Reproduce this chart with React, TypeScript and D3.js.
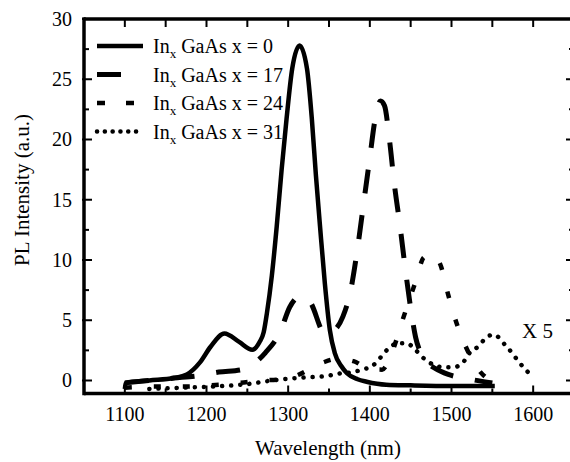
import React from "react";
import * as d3 from "d3";

// ---- data ----
const seriesLabels = ["0", "17", "24", "31"];

const s0Wavelength = [1100, 1101, 1130, 1160, 1176, 1192, 1205, 1222, 1240, 1256, 1265, 1270, 1274, 1280, 1286, 1292, 1298, 1305, 1314, 1323, 1329, 1334, 1339, 1345, 1351, 1357, 1365, 1372, 1385, 1396, 1420, 1450, 1500, 1553];
const s0Intensity = [-0.7, -0.2, 0, 0.2, 0.5, 1.5, 2.8, 3.9, 3.2, 2.55, 3.2, 4.0, 5.6, 8.7, 12.8, 17.5, 21.7, 25.9, 27.8, 25.9, 21.7, 17, 12.8, 8, 4.2, 2.3, 1.2, 0.6, 0.1, -0.1, -0.35, -0.4, -0.45, -0.45];

const s17Wavelength = [1100, 1130, 1160, 1190, 1215, 1243, 1260, 1272, 1290, 1302, 1315, 1327, 1345, 1352, 1367, 1376, 1385, 1392, 1400, 1406, 1413, 1418, 1424, 1430, 1437, 1443, 1450, 1456, 1463, 1470, 1480, 1496, 1523, 1550];
const s17Intensity = [-0.2, 0, 0.2, 0.4, 0.7, 0.9, 1.5, 2.3, 4.0, 6.1, 7.0, 6.5, 3.9, 4.0, 5.3, 7.3, 11, 14.5, 18.5, 21.5, 23.2, 22.8, 20, 16.3, 12.8, 9.5, 6, 3.6, 2.2, 1.5, 1.0, 0.5, 0.1, -0.2];

const s24Wavelength = [1100, 1137, 1171, 1204, 1241, 1267, 1290, 1310, 1325, 1343, 1360, 1380, 1398, 1415, 1428, 1440, 1456, 1466, 1476, 1487, 1496, 1507, 1521, 1533, 1545];
const s24Intensity = [-0.6, -0.5, -0.5, -0.4, -0.2, 0, 0.1, 0.4, 0.9, 1.5, 1.8, 1.6, 1.0, 0.9, 2.5, 5.0, 8.2, 10.2, 10.5, 9.5, 7.1, 4.6, 2.3, 0.9, 0.1];

const s31Wavelength = [1130, 1170, 1210, 1250, 1280, 1300, 1320, 1345, 1365, 1380, 1390, 1403, 1413, 1422, 1435, 1445, 1455, 1465, 1478, 1490, 1502, 1513, 1521, 1534, 1543, 1552, 1565, 1574, 1583, 1595];
const s31Intensity = [-0.7, -0.6, -0.5, -0.3, 0, 0.15, 0.25, 0.35, 0.6, 0.7, 0.9, 1.2, 1.9, 2.6, 3.1, 3.1, 2.6, 1.9, 1.3, 1.1, 1.1, 1.4, 2.2, 2.9, 3.6, 3.8, 3.0, 2.3, 1.5, 0.6];

const xTickLabels = [1100, 1200, 1300, 1400, 1500, 1600];
const yTickLabels = [0, 5, 10, 15, 20, 25, 30];
const xDomain = [1050, 1650];
const yDomain = [-1.08, 30];

const FONT = "'Liberation Serif', 'Times New Roman', Times, serif";

export default function App() {
  const W = 570;
  const H = 462;
  const left = 84, right = 574, top = 19, bottom = 393.5;
  const x = d3.scaleLinear().domain(xDomain).range([left, right]);
  const y = d3.scaleLinear().domain(yDomain).range([bottom, top]);

  const line = d3
    .line<[number, number]>()
    .x((d) => x(d[0]))
    .y((d) => y(d[1]))
    .curve(d3.curveMonotoneX);

  const zip = (a: number[], b: number[]) => a.map((v, i) => [v, b[i]] as [number, number]);

  const series = [
    { data: zip(s0Wavelength, s0Intensity), dash: "none", legendDash: "none", width: 4.5, cap: "butt" },
    { data: zip(s17Wavelength, s17Intensity), dash: "24 22", legendDash: "24 22", width: 5, cap: "butt" },
    { data: zip(s24Wavelength, s24Intensity), dash: "7 22", legendDash: "8 21", width: 4.5, cap: "butt" },
    { data: zip(s31Wavelength, s31Intensity), dash: "0.1 9", legendDash: "0.1 7.7", width: 4.5, cap: "round" },
  ];

  const xMinor = d3.range(1050, 1651, 50);
  const yMinor = d3.range(0, 30.01, 2.5);

  return (
    <svg width={W} height={H} style={{ position: "absolute", left: 0, top: 0, background: "#fff" }}>
      <rect x={0} y={0} width={W} height={H} fill="#fff" />
      {/* curves */}
      {series.map((s, i) => (
        <path
          key={i}
          d={line(s.data) || ""}
          fill="none"
          stroke="#000"
          strokeWidth={s.width}
          strokeDasharray={s.dash}
          strokeLinecap={s.cap as any}
          strokeLinejoin="round"
        />
      ))}

      {/* frame */}
      <g stroke="#000" strokeWidth={3.5} fill="none">
        <line x1={left} x2={left} y1={top - 1.75} y2={bottom + 1.75} />
        <line x1={left} x2={right + 2} y1={top} y2={top} />
        <line x1={left} x2={right + 2} y1={bottom} y2={bottom} />
        <line x1={right} x2={right} y1={top} y2={bottom} />
      </g>

      {/* x ticks */}
      <g stroke="#000" strokeWidth={2}>
        {xMinor.map((v) => {
          const major = v % 100 === 0;
          const len = major ? 8 : 5;
          return (
            <g key={v}>
              <line x1={x(v)} x2={x(v)} y1={bottom} y2={bottom - len} />
              <line x1={x(v)} x2={x(v)} y1={top} y2={top + 8} />
            </g>
          );
        })}
      </g>
      {/* y ticks */}
      <g stroke="#000" strokeWidth={2}>
        {yMinor.map((v) => {
          const major = v % 5 === 0;
          const len = major ? 8 : 5;
          return (
            <g key={v}>
              <line x1={left - (major ? 2 : 0)} x2={left + len} y1={y(v)} y2={y(v)} />
              <line x1={right} x2={right - len} y1={y(v)} y2={y(v)} />
            </g>
          );
        })}
      </g>

      {/* tick labels */}
      <g fontFamily={FONT} fontSize={20} fill="#000">
        {xTickLabels.map((v) => (
          <text key={v} x={x(v)} y={421} textAnchor="middle">
            {v}
          </text>
        ))}
        {yTickLabels.map((v) => (
          <text key={v} x={72} y={y(v) + 7} textAnchor="end">
            {v}
          </text>
        ))}
      </g>

      {/* axis titles */}
      <text x={328} y={455} textAnchor="middle" fontFamily={FONT} fontSize={21}>
        Wavelength (nm)
      </text>
      <text
        transform={`translate(29, 190) rotate(-90)`}
        textAnchor="middle"
        fontFamily={FONT}
        fontSize={21}
      >
        PL Intensity (a.u.)
      </text>

      {/* annotation */}
      <text x={522} y={338} fontFamily={FONT} fontSize={21}>
        X 5
      </text>

      {/* legend */}
      {series.map((s, i) => {
        const ly = 46 + i * 28.5;
        return (
          <g key={i}>
            <line
              x1={97}
              x2={143}
              y1={ly}
              y2={ly}
              stroke="#000"
              strokeWidth={s.width}
              strokeDasharray={s.legendDash}
              strokeLinecap={s.cap as any}
            />
            <text x={153} y={ly + 7} fontFamily={FONT} fontSize={20}>
              In
              <tspan fontSize={13} dy={5}>x</tspan>
              <tspan dy={-5}>{` GaAs x = ${seriesLabels[i]}`}</tspan>
            </text>
          </g>
        );
      })}
    </svg>
  );
}
